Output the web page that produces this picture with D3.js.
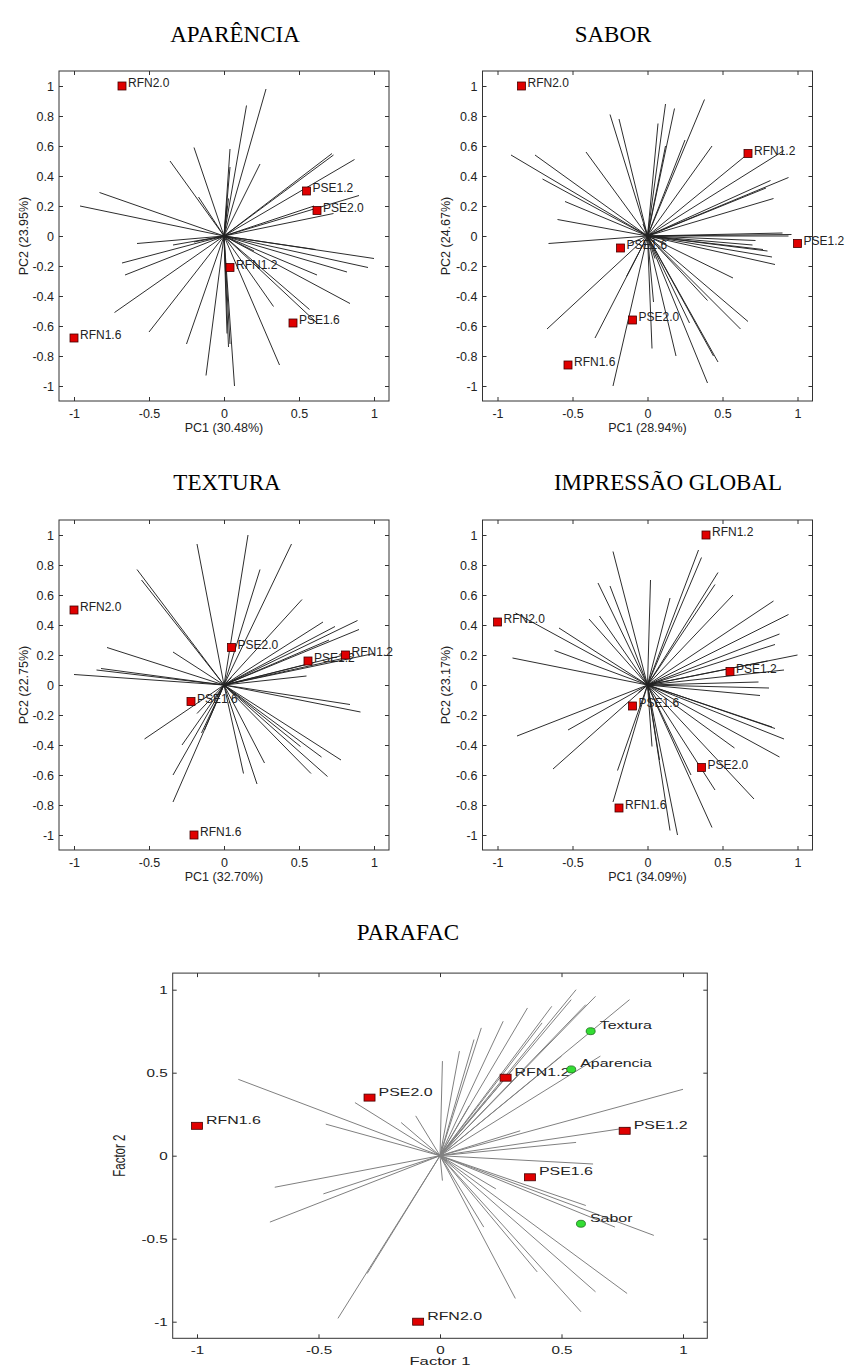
<!DOCTYPE html>
<html>
<head>
<meta charset="utf-8">
<script src="https://cdn.jsdelivr.net/npm/d3@7"></script>
<style>
  body { margin: 0; background: #fff; }
  svg { display: block; }
  .tick text { fill: #222; }
</style>
</head>
<body>
<svg width="850" height="1369"></svg>
<script>
// ---- data ----
var titles = ["APARÊNCIA", "SABOR", "TEXTURA", "IMPRESSÃO GLOBAL", "PARAFAC"];
var xLabels = ["PC1 (30.48%)", "PC1 (28.94%)", "PC1 (32.70%)", "PC1 (34.09%)", "Factor 1"];
var yLabels = ["PC2 (23.95%)", "PC2 (24.67%)", "PC2 (22.75%)", "PC2 (23.17%)", "Factor 2"];

var xTicks = [-1, -0.5, 0, 0.5, 1];
var pcYTicks = [-1, -0.8, -0.6, -0.4, -0.2, 0, 0.2, 0.4, 0.6, 0.8, 1];
var factorYTicks = [-1, -0.5, 0, 0.5, 1];

// sample scores: [name, x, y]
var aparScores = [["RFN2.0", -0.68, 1.0], ["PSE1.2", 0.55, 0.30], ["PSE2.0", 0.62, 0.17],
                  ["RFN1.2", 0.04, -0.21], ["PSE1.6", 0.46, -0.58], ["RFN1.6", -1.0, -0.68]];
var saborScores = [["RFN2.0", -0.84, 1.0], ["RFN1.2", 0.67, 0.55], ["PSE1.2", 1.0, -0.05],
                   ["PSE1.6", -0.18, -0.08], ["PSE2.0", -0.1, -0.56], ["RFN1.6", -0.53, -0.86]];
var texturaScores = [["RFN2.0", -1.0, 0.5], ["PSE2.0", 0.05, 0.25], ["PSE1.2", 0.56, 0.16],
                     ["RFN1.2", 0.81, 0.2], ["PSE1.6", -0.22, -0.11], ["RFN1.6", -0.2, -1.0]];
var impressaoScores = [["RFN1.2", 0.39, 1.0], ["RFN2.0", -1.0, 0.42], ["PSE1.2", 0.55, 0.09],
                       ["PSE1.6", -0.1, -0.14], ["PSE2.0", 0.36, -0.55], ["RFN1.6", -0.19, -0.82]];
var parafacScores = [["RFN1.6", -1.0, 0.18], ["PSE2.0", -0.29, 0.35], ["RFN1.2", 0.27, 0.47],
                     ["PSE1.2", 0.76, 0.15], ["PSE1.6", 0.37, -0.13], ["RFN2.0", -0.09, -1.0]];
var parafacAttrs = [["Textura", 0.62, 0.75], ["Aparencia", 0.54, 0.52], ["Sabor", 0.58, -0.41]];

// loading end points: [x, y] (all start at the origin)
var aparLoadings = [[0.28,0.98],[0.15,0.87],[0.04,0.58],[0.04,0.46],[-0.2,0.59],[-0.36,0.5],[0.24,0.48],
  [0.73,0.54],[0.87,0.51],[0.9,0.27],[0.73,0.15],[-0.83,0.29],[-0.96,0.2],[-0.58,-0.05],[1.0,-0.15],
  [0.96,-0.21],[0.82,-0.24],[0.62,-0.26],[0.84,-0.45],[0.61,-0.09],[-0.68,-0.18],[-0.66,-0.26],
  [-0.73,-0.51],[-0.5,-0.64],[-0.25,-0.72],[-0.12,-0.93],[0.07,-1.0],[0.03,-0.74],[0.02,-0.65],
  [0.33,-0.47],[0.37,-0.86],[0.62,-0.58],[0.57,-0.49],[-0.34,-0.06],[-0.17,0.26],[0.02,0.2],[0.6,0.2],
  [0.72,0.55],[0.04,-0.72],[0.03,0.25],[-0.05,-0.02],[0.2,-0.1],[-0.2,-0.04]];
var saborLoadings = [[0.38,0.91],[0.12,0.88],[0.18,0.85],[-0.25,0.81],[-0.19,0.78],[0.07,0.75],[0.25,0.64],
  [0.43,0.6],[0.12,0.6],[-0.91,0.54],[-0.75,0.54],[-0.41,0.56],[0.91,0.57],[0.94,0.39],[0.79,0.32],
  [0.84,0.25],[-0.7,0.38],[-0.55,0.23],[-0.6,0.11],[-0.66,-0.05],[0.96,0.01],[0.77,-0.09],[0.83,-0.14],
  [0.85,-0.19],[0.57,-0.28],[-0.67,-0.62],[-0.35,-0.68],[-0.23,-1.0],[0.03,-0.75],[0.04,-0.44],
  [0.19,-0.8],[0.28,-0.58],[0.4,-0.98],[0.47,-0.84],[0.44,-0.8],[0.62,-0.62],[0.67,-0.57],[0.4,-0.43],
  [-0.14,-0.27],[0.72,-0.03],[0.94,0.0],[0.66,0.54],[0.9,0.02],[0.7,-0.06],[0.8,-0.1],[-0.12,-0.05],
  [0.05,-0.15],[-0.03,0.08],[0.12,-0.05],[0.82,0.37]];
var texturaLoadings = [[0.16,1.0],[-0.18,0.94],[0.45,0.94],[0.24,0.77],[-0.58,0.77],[-0.55,0.7],[0.52,0.57],
  [0.66,0.42],[0.74,0.39],[0.89,0.43],[0.9,0.37],[1.0,0.21],[-0.78,0.25],[-0.34,0.22],[-0.82,0.11],
  [-0.85,0.1],[-1.0,0.07],[0.55,0.06],[0.84,-0.13],[0.91,-0.18],[-0.53,-0.36],[-0.28,-0.4],[-0.18,-0.19],
  [-0.34,-0.6],[-0.34,-0.78],[-0.13,-0.3],[0.13,-0.59],[0.22,-0.66],[0.27,-0.52],[0.65,-0.48],
  [0.69,-0.61],[0.78,-0.5],[0.58,-0.59],[0.51,-0.41],[0.8,0.2],[0.6,0.15],[0.7,0.3],[0.85,0.19],
  [-0.15,-0.32],[0.05,0.05],[-0.05,-0.08]];
var impressaoLoadings = [[-0.23,0.89],[0.34,0.9],[0.36,0.85],[0.02,0.7],[-0.33,0.68],[-0.25,0.66],[0.47,0.75],
  [0.45,0.67],[0.15,0.58],[0.57,0.6],[-0.32,0.46],[-0.39,0.44],[-0.59,0.38],[0.84,0.56],[0.94,0.47],
  [0.88,0.34],[0.85,0.27],[1.0,0.2],[0.91,0.1],[0.74,0.02],[0.81,-0.02],[0.75,-0.07],[-0.62,0.23],
  [-0.9,0.18],[-0.87,-0.34],[-0.53,-0.3],[-0.63,-0.56],[-0.2,-0.57],[-0.23,-0.78],[0.15,-0.97],
  [0.2,-1.0],[0.43,-0.95],[0.45,-0.7],[0.71,-0.76],[0.88,-0.48],[0.91,-0.36],[0.83,-0.28],[0.58,-0.42],
  [0.29,-0.6],[-0.88,0.48],[0.03,-0.41],[0.85,-0.29],[0.8,0.16],[0.08,-0.5],[-0.06,-0.05],[0.1,0.03]];
var parafacLoadings = [[-0.83,0.46],[-0.35,0.32],[-0.47,0.19],[-0.16,0.2],[-0.1,0.24],[-0.68,-0.19],
  [-0.48,-0.23],[-0.7,-0.4],[-0.42,-0.98],[-0.3,-0.71],[0.01,0.57],[0.01,-0.15],[0.08,0.63],[0.14,0.7],
  [0.17,0.77],[0.26,0.81],[0.36,0.89],[0.46,0.9],[0.56,1.0],[0.6,0.91],[0.64,0.96],[0.78,0.94],
  [0.54,0.94],[0.66,0.6],[1.0,0.4],[0.33,0.15],[0.56,0.08],[0.78,0.17],[0.63,-0.05],[0.23,-0.2],
  [0.18,-0.43],[0.88,-0.48],[0.72,-0.43],[0.31,-0.86],[0.58,-0.94],[0.64,-0.82],[0.77,-0.83],[0.12,0.3],
  [0.42,0.8],[0.5,0.6],[0.3,0.52],[0.6,-0.3],[0.4,-0.7]];

// ---- layout ----
var svg = d3.select("svg");
var sans = "'Liberation Sans', Arial, sans-serif";

svg.append("rect").attr("width", 850).attr("height", 1369).attr("fill", "#fff");

var panels = [
  {x0: 224, y0: 236, kx: 150, ky: 150, tx: 235, ty: 42, ylx: 28, scores: aparScores, loads: aparLoadings, yTicks: pcYTicks},
  {x0: 647.5, y0: 236, kx: 150, ky: 150, tx: 613, ty: 42, ylx: 450, scores: saborScores, loads: saborLoadings, yTicks: pcYTicks},
  {x0: 224, y0: 685, kx: 150, ky: 150, tx: 227, ty: 490, ylx: 28, scores: texturaScores, loads: texturaLoadings, yTicks: pcYTicks},
  {x0: 647.5, y0: 685, kx: 150, ky: 150, tx: 668, ty: 490, ylx: 450, scores: impressaoScores, loads: impressaoLoadings, yTicks: pcYTicks},
  {x0: 440, y0: 1155.7, kx: 243, ky: 166, tx: 408, ty: 940, ylx: 125, scores: parafacScores, loads: parafacLoadings, yTicks: factorYTicks, wide: true}
];

function fmt(d) { return String(Math.round(d * 10) / 10); }

panels.forEach(function(p, i) {
  var sx = p.wide ? 1.45 : 1;              // the PARAFAC plot is stretched sideways
  var x = d3.scaleLinear().domain([-1.1, 1.1]).range([p.x0 - 1.1 * p.kx, p.x0 + 1.1 * p.kx]),
      y = d3.scaleLinear().domain([-1.1, 1.1]).range([p.y0 + 1.1 * p.ky, p.y0 - 1.1 * p.ky]);
  var left = x.range()[0], right = x.range()[1], bottom = y.range()[0], top = y.range()[1];
  var tickFont = p.wide ? 10.5 : 12.5, labFont = p.wide ? 11 : 12;

  svg.append("text")
      .attr("x", p.tx).attr("y", p.ty)
      .attr("text-anchor", "middle")
      .style("font-family", "'Liberation Serif', 'Times New Roman', serif")
      .style("font-size", "23px")
      .text(titles[i]);

  var g = svg.append("g");

  // loadings
  g.selectAll(".load")
    .data(p.loads)
    .enter().append("line")
      .attr("class", "load")
      .attr("x1", x(0)).attr("y1", y(0))
      .attr("x2", function(d) { return x(d[0]); })
      .attr("y2", function(d) { return y(d[1]); })
      .attr("stroke", p.wide ? "#808080" : "#222")
      .attr("stroke-width", p.wide ? 1 : 0.95);

  // axes with inward ticks on all four sides
  var ax = g.append("g").attr("transform", "translate(0," + bottom + ")")
      .call(d3.axisBottom(x).tickValues(xTicks).tickSize(-4).tickSizeOuter(0).tickPadding(8).tickFormat(fmt));
  var ay = g.append("g").attr("transform", "translate(" + left + ",0)")
      .call(d3.axisLeft(y).tickValues(p.yTicks).tickSize(-4).tickSizeOuter(0).tickPadding(5).tickFormat(fmt));
  g.append("g").attr("transform", "translate(0," + top + ")")
      .call(d3.axisTop(x).tickValues(xTicks).tickSize(-4).tickSizeOuter(0).tickFormat(""));
  g.append("g").attr("transform", "translate(" + right + ",0)")
      .call(d3.axisRight(y).tickValues(p.yTicks).tickSize(-4).tickSizeOuter(0).tickFormat(""));
  g.selectAll(".domain").remove();
  g.selectAll(".tick line").attr("stroke", "#333");
  g.selectAll(".tick text").style("font-family", sans).style("font-size", tickFont + "px");
  if (p.wide) {
    ax.selectAll(".tick text").attr("transform", "scale(" + sx + ",1)");
    ay.selectAll(".tick text").attr("x", -5 / sx).attr("transform", "scale(" + sx + ",1)");
  }

  g.append("rect")
      .attr("x", left).attr("y", top)
      .attr("width", right - left).attr("height", bottom - top)
      .attr("fill", "none").attr("stroke", "#333").attr("stroke-width", 1);

  // axis titles
  g.append("text")
      .attr("transform", "translate(" + x(0) + "," + (bottom + (p.wide ? 27 : 31)) + ") scale(" + sx + ",1)")
      .attr("text-anchor", "middle")
      .style("font-family", sans).style("font-size", (p.wide ? 11.5 : 12.5) + "px").style("fill", "#222")
      .text(xLabels[i]);
  g.append("text")
      .attr("transform", "translate(" + p.ylx + "," + y(0) + ") scale(" + sx + ",1) rotate(-90)")
      .attr("text-anchor", "middle")
      .style("font-family", sans).style("font-size", (p.wide ? 11.5 : 12.5) + "px").style("fill", "#222")
      .text(yLabels[i]);

  // sample labels and markers
  var mw = p.wide ? 11 : 8, mh = p.wide ? 7 : 8;
  g.selectAll(".lab")
    .data(p.scores)
    .enter().append("text")
      .attr("class", "lab")
      .attr("transform", function(d) {
        return "translate(" + (x(d[1]) + (p.wide ? 9 : 6)) + "," + (y(d[2]) + (p.wide ? -2 : 1)) + ") scale(" + sx + ",1)";
      })
      .style("font-family", sans).style("font-size", labFont + "px").style("fill", "#222")
      .text(function(d) { return d[0]; });
  g.selectAll(".score")
    .data(p.scores)
    .enter().append("rect")
      .attr("class", "score")
      .attr("x", function(d) { return x(d[1]) - mw / 2; })
      .attr("y", function(d) { return y(d[2]) - mh / 2; })
      .attr("width", mw).attr("height", mh)
      .attr("fill", "#e00000").attr("stroke", "#400").attr("stroke-width", 0.8);

  if (p.wide) {
    g.selectAll(".attrlab")
      .data(parafacAttrs)
      .enter().append("text")
        .attr("transform", function(d) {
          return "translate(" + (x(d[1]) + 9) + "," + (y(d[2]) - 2) + ") scale(" + sx + ",1)";
        })
        .style("font-family", sans).style("font-size", labFont + "px").style("fill", "#222")
        .text(function(d) { return d[0]; });
    g.selectAll(".attr")
      .data(parafacAttrs)
      .enter().append("ellipse")
        .attr("cx", function(d) { return x(d[1]); })
        .attr("cy", function(d) { return y(d[2]); })
        .attr("rx", 4.5).attr("ry", 3.5)
        .attr("fill", "#33dd33").attr("stroke", "#1b6b1b").attr("stroke-width", 0.8);
  }
});
</script>
</body>
</html>
